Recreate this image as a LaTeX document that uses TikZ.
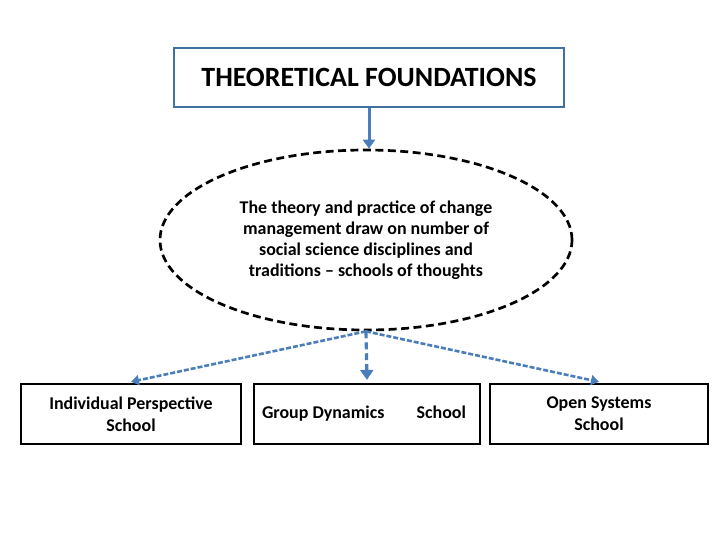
\documentclass[tikz,border=0pt]{standalone}
\usepackage{fontspec}
\setmainfont{Carlito}
\usetikzlibrary{shapes.geometric,arrows.meta}
\definecolor{boxblue}{HTML}{41719C}
\definecolor{arrblue}{HTML}{4A7EBB}
\tikzset{
  topbox/.style={draw=boxblue,line width=2.5pt,minimum width=390bp,minimum height=59bp,inner sep=0pt,font=\bfseries\fontsize{28}{32}\selectfont},
  schoolbox/.style={draw=black,line width=2.3pt,minimum height=60bp,inner sep=0pt,font=\bfseries\fontsize{18}{22}\selectfont,align=center},
  ellnode/.style={draw=black,ellipse,dashed,dash pattern=on 8pt off 4.5pt,line width=2.7pt,minimum width=412bp,minimum height=180bp,inner sep=0pt,align=center,font=\bfseries\fontsize{18}{21}\selectfont},
  solidarrow/.style={draw=arrblue,line width=3pt,-{Triangle[length=9pt,width=12pt]}},
  dasharrow/.style={draw=arrblue,line width=2.6pt,dash pattern=on 5pt off 2pt,-{Triangle[length=8pt,width=10pt]}},
  midarrow/.style={draw=arrblue,line width=3.2pt,dash pattern=on 7pt off 4pt,-{Triangle[length=10pt,width=13pt]}}
}
\begin{document}
\begin{tikzpicture}[x=1bp,y=-1bp]
\useasboundingbox (0,0) rectangle (720,540);
\node[topbox] (top) at (369,77.5) {THEORETICAL FOUNDATIONS};
\node[ellnode] (ell) at (366,240) {The theory and practice of change\\management draw on number of\\social science disciplines and\\traditions -- schools of thoughts};
\node[schoolbox,minimum width=220bp] (b1) at (131,414) {Individual Perspective\\School};
\node[schoolbox,minimum width=226bp] (b2) at (367,414) {\hspace*{-6bp}\makebox[204bp]{Group Dynamics\hfill School}};
\node[schoolbox,minimum width=218bp] (b3) at (599,414) {Open Systems\\School};
\coordinate (hub) at (ell.south);
\coordinate (tgt) at (top.south |- ell.north);
\draw[solidarrow] (top.south) -- (tgt);
\draw[dasharrow] (hub) -- ([yshift=1bp]b1.north);
\draw[midarrow] (hub) -- ([yshift=3bp]b2.north);
\draw[dasharrow] (hub) -- ([yshift=1bp]b3.north);
\end{tikzpicture}
\end{document}
